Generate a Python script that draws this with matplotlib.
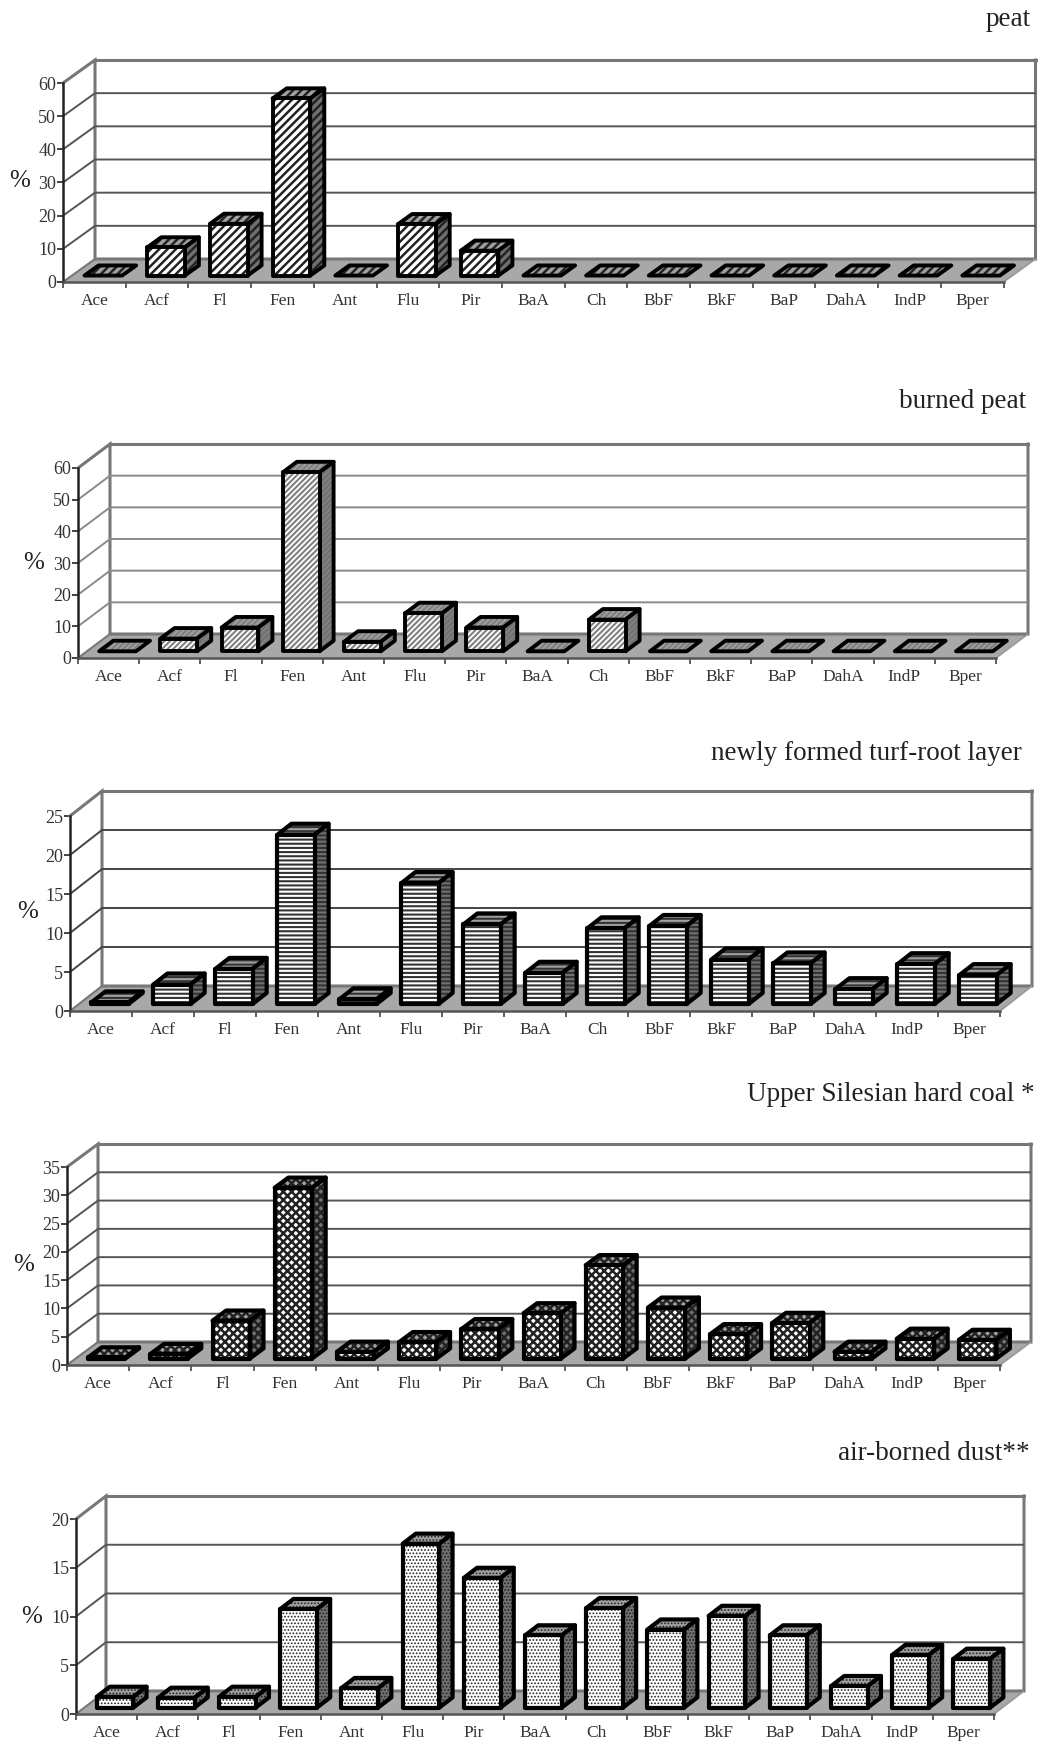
import matplotlib
matplotlib.use("Agg")
import matplotlib.pyplot as plt
from matplotlib.patches import Polygon

W, H = 1038, 1744

plt.rcParams["font.family"] = ["Liberation Serif", "DejaVu Serif"]

compounds = ["Ace", "Acf", "Fl", "Fen", "Ant", "Flu", "Pir", "BaA", "Ch", "BbF", "BkF", "BaP", "DahA", "IndP", "Bper"]

peat = [0, 8.5, 15.6, 53.4, 0, 15.5, 7.5, 0, 0, 0, 0, 0, 0, 0, 0]
burned_peat = [0, 4, 7.5, 56.5, 3, 12, 7.5, 0, 10, 0, 0, 0, 0, 0, 0]
turf_root = [0.2, 2.5, 4.5, 21.7, 0.6, 15.5, 10.2, 4, 9.7, 10, 5.7, 5.2, 1.9, 5.1, 3.7]
hard_coal = [0.2, 0.8, 6.7, 30.2, 1.2, 2.9, 5.2, 8, 16.5, 9, 4.3, 6.3, 1.2, 3.5, 3.3]
dust = [1.1, 1.0, 1.1, 10.1, 2, 16.8, 13.3, 7.4, 10.2, 8, 9.4, 7.4, 2.2, 5.4, 5]

titles = ["peat", "burned peat", "newly formed turf-root layer", "Upper Silesian hard coal *", "air-borned dust**"]
series = [peat, burned_peat, turf_root, hard_coal, dust]
y_max = [60, 60, 25, 35, 20]
y_step = [10, 10, 5, 5, 5]

# pixel layout: front-left x, zero y, top y, depth x, depth y, category step
frames = [
    (63, 282, 83, 32, 23, 62.7),
    (78, 658, 468, 32, 24, 61.2),
    (70, 1011, 816, 32, 25, 62.0),
    (67, 1365, 1167, 31, 23, 62.2),
    (76, 1714, 1519, 30, 23, 61.2),
]
title_pos = [(1031, 20), (1026, 401), (1022, 753), (1035, 1094), (1030, 1453)]
pct_pos = [(20, 181), (34, 563), (28, 912), (24, 1265), (32, 1617)]
# hatch, hatch width, hatch colour, bar outline width, grid colour
styles = [
    ("////", 1.8, "#222222", 2.8, "#555555"),
    ("//////", 1.5, "#808080", 2.8, "#8a8a8a"),
    ("----", 1.5, "#333333", 3.0, "#444444"),
    ("xxxx", 1.8, "#222222", 3.0, "#555555"),
    (".....", 0.8, "#222222", 3.0, "#555555"),
]

fig = plt.figure(figsize=(W / 100, H / 100), dpi=100, facecolor="white")


def draw_face(ax, pts, face, style, z):
    hatch, hatch_lw, hatch_color, edge, _ = style
    plt.rcParams["hatch.linewidth"] = hatch_lw
    ax.add_patch(Polygon(pts, facecolor=face, edgecolor=hatch_color, hatch=hatch, lw=0, zorder=z))
    ax.add_patch(Polygon(pts, fill=False, edgecolor="black", lw=edge, zorder=z, joinstyle="round"))


def draw_bar(ax, i, v, dx, dy, style):
    left, right = i + 0.2, i + 0.8
    near, far = 0.28, 0.72
    # points on the front and back planes of the bar
    def pt(x, y, d):
        return (x + d * dx, y + d * dy)
    top = [pt(left, v, near), pt(right, v, near), pt(right, v, far), pt(left, v, far)]
    draw_face(ax, top, "#a0a0a0", style, 5)
    if v <= 0:
        return
    side = [pt(right, 0, near), pt(right, 0, far), pt(right, v, far), pt(right, v, near)]
    draw_face(ax, side, "#707070", style, 5)
    front = [pt(left, 0, near), pt(right, 0, near), pt(right, v, near), pt(left, v, near)]
    draw_face(ax, front, "white", style, 6)


for n in range(5):
    x0, y0, ytop, dpx, dpy, step = frames[n]
    values = series[n]
    ymax = y_max[n]
    ppu = (y0 - ytop) / ymax
    dx = dpx / step
    dy = dpy / ppu
    cats = len(compounds)

    ax = fig.add_axes([x0 / W, 1 - y0 / H, (cats * step + dpx) / W, (y0 - ytop + dpy) / H])
    ax.set_xlim(0, cats + dx)
    ax.set_ylim(0, ymax + dy)
    ax.patch.set_alpha(0)

    for s in ["top", "right"]:
        ax.spines[s].set_visible(False)
    ax.spines["left"].set_bounds(0, ymax)
    ax.spines["bottom"].set_bounds(0, cats)
    ax.spines["left"].set_linewidth(1.8)
    ax.spines["left"].set_color("#222222")
    ax.spines["bottom"].set_linewidth(1.8)
    ax.spines["bottom"].set_color("#555555")

    ticks = list(range(0, ymax + 1, y_step[n]))
    ax.set_yticks(ticks)
    ax.set_yticklabels([str(t) for t in ticks], fontsize=13, color="#333333")
    ax.set_xticks([i + 0.5 for i in range(cats)])
    ax.set_xticklabels(compounds, fontsize=12.5, color="#333333")
    ax.set_xticks(list(range(cats + 1)), minor=True)
    ax.tick_params(axis="x", which="major", length=0, pad=8)
    ax.tick_params(axis="x", which="minor", length=4, width=1.2, color="#444444")
    ax.tick_params(axis="y", length=4, width=1.2, color="#222222", pad=1)

    # floor
    ax.add_patch(Polygon([(0, 0), (cats, 0), (cats + dx, dy), (dx, dy)], facecolor="#a8a8a8", edgecolor="none", zorder=1))
    # walls
    wall = "#777777"
    ax.plot([0, dx, dx, cats + dx, cats + dx], [ymax, ymax + dy, dy, dy, ymax + dy], color=wall, lw=2.2, zorder=2, solid_joinstyle="miter", clip_on=False)
    ax.plot([dx, cats + dx], [ymax + dy, ymax + dy], color=wall, lw=2.2, zorder=2, clip_on=False)
    ax.plot([0, dx], [0, dy], color=wall, lw=1.5, zorder=2)
    ax.plot([cats, cats + dx], [0, dy], color="#999999", lw=1.2, zorder=2)
    for t in ticks[1:-1]:
        ax.plot([0, dx, cats + dx], [t, t + dy, t + dy], color=styles[n][4], lw=1.4, zorder=2)

    for i, v in enumerate(values):
        draw_bar(ax, i, v, dx, dy, styles[n])

    tx, ty = title_pos[n]
    fig.text(tx / W, 1 - ty / H, titles[n], ha="right", va="center", fontsize=19.5, color="#222222")
    px, py = pct_pos[n]
    fig.text(px / W, 1 - py / H, "%", ha="center", va="center", fontsize=18, color="#222222")

fig.savefig("out.png", dpi=100, facecolor="white")
